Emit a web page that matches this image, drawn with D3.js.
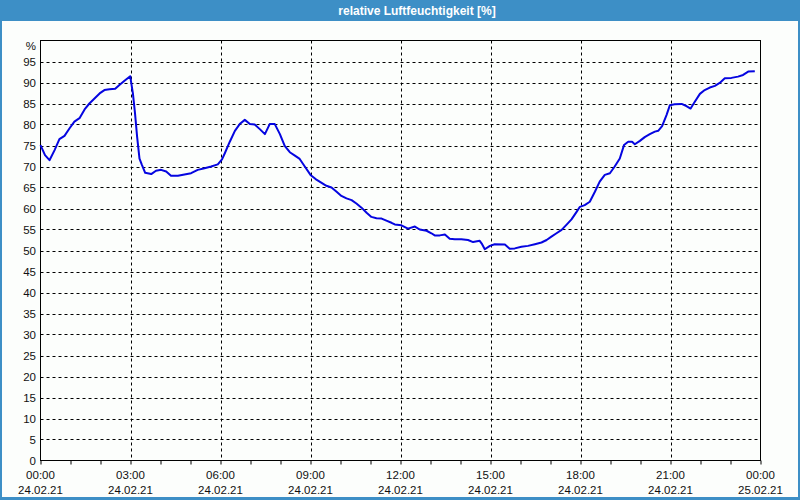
<!DOCTYPE html>
<html><head><meta charset="utf-8">
<script src="https://cdn.jsdelivr.net/npm/d3@7"></script>
<style>
html,body{margin:0;padding:0;background:#fff;}
svg{display:block;}
</style>
</head><body>
<svg id="c" width="800" height="500"></svg>
<script>
const title = "relative Luftfeuchtigkeit [%]";
const unitLabel = "%";
// hours after 24.02.21 00:00
const hours = [0,0.15,0.3,0.47,0.63,0.8,0.97,1.13,1.3,1.47,1.63,1.8,1.97,2.13,2.3,2.49,2.63,2.8,2.99,3.08,3.15,3.22,3.3,3.38,3.49,3.69,3.85,4.02,4.19,4.35,4.58,4.8,5.02,5.24,5.47,5.69,5.91,6.05,6.14,6.31,6.48,6.64,6.81,6.98,7.14,7.31,7.48,7.64,7.81,7.98,8.14,8.31,8.48,8.64,8.81,9.0,9.17,9.37,9.53,9.7,9.87,10.03,10.2,10.37,10.53,10.7,10.87,11.03,11.2,11.37,11.53,11.7,11.81,12.03,12.25,12.48,12.64,12.87,13.03,13.14,13.31,13.48,13.64,13.81,14.03,14.25,14.42,14.64,14.72,14.81,14.98,15.14,15.48,15.64,15.81,16.03,16.25,16.48,16.7,16.87,17.03,17.2,17.37,17.53,17.7,17.87,17.98,18.14,18.31,18.48,18.64,18.81,18.98,19.14,19.31,19.45,19.59,19.72,19.81,19.98,20.14,20.31,20.48,20.59,20.72,20.87,20.98,21.14,21.37,21.53,21.67,21.81,21.98,22.14,22.31,22.48,22.64,22.81,23.03,23.25,23.42,23.59,23.81];
const humidity = [75.1,72.7,71.5,73.9,76.5,77.3,79.1,80.7,81.5,83.6,85.0,86.2,87.4,88.2,88.4,88.5,89.4,90.4,91.5,87.4,82.7,77.1,71.9,70.4,68.5,68.2,69.0,69.2,68.8,67.8,67.8,68.1,68.4,69.2,69.6,70.0,70.5,71.7,73.1,75.9,78.5,80.1,81.1,80.1,80.0,78.9,77.7,80.1,80.1,77.7,74.9,73.4,72.6,71.8,70.0,68.0,67.0,66.1,65.4,65.0,64.0,63.0,62.4,62.0,61.2,60.2,59.0,58.0,57.7,57.6,57.1,56.6,56.2,56.0,55.2,55.7,55.0,54.7,54.1,53.6,53.6,53.8,52.8,52.7,52.7,52.5,52.0,52.3,51.5,50.3,51.1,51.5,51.4,50.4,50.5,50.9,51.1,51.5,51.9,52.5,53.3,54.1,54.9,56.1,57.4,59.2,60.4,60.8,61.6,64.0,66.4,68.0,68.4,70.0,71.9,75.1,75.9,75.9,75.3,76.1,77.0,77.7,78.3,78.5,79.6,82.3,84.6,84.8,84.9,84.4,83.8,85.4,87.3,88.2,88.8,89.2,89.9,91.0,91.1,91.4,91.8,92.6,92.7];
const yTicks = [0,5,10,15,20,25,30,35,40,45,50,55,60,65,70,75,80,85,90,95];
const xTickHours = [0,3,6,9,12,15,18,21,24];
const xTickTimes = ["00:00","03:00","06:00","09:00","12:00","15:00","18:00","21:00","00:00"];
const xTickDates = ["24.02.21","24.02.21","24.02.21","24.02.21","24.02.21","24.02.21","24.02.21","24.02.21","25.02.21"];

const svg = d3.select("#c");
const W = 800, H = 500;
const m = {left: 40.5, right: 760.5, top: 40.5, bottom: 460.5};
const font = "'Liberation Sans', Arial, sans-serif";

// window frame
svg.append("rect").attr("x",0).attr("y",0).attr("width",W).attr("height",H).attr("fill","#3d8fc6");
svg.append("rect").attr("x",2).attr("y",21).attr("width",W-4).attr("height",H-24).attr("fill","#fcfefc");
svg.append("text").attr("x",417).attr("y",15).attr("text-anchor","middle")
  .attr("fill","#fff").attr("font-family",font).attr("font-weight","bold").attr("font-size","12px")
  .text(title);

const x = d3.scaleLinear().domain([0,24]).range([m.left, m.right]);
const y = d3.scaleLinear().domain([0,100]).range([m.bottom, m.top]);

// horizontal grid
svg.append("g").selectAll("line").data(yTicks.filter(v=>v>0)).join("line")
  .attr("x1",m.left).attr("x2",m.right).attr("y1",d=>Math.round(y(d))+0.5).attr("y2",d=>Math.round(y(d))+0.5)
  .attr("stroke","#000").attr("stroke-width",1).attr("stroke-dasharray","3,3");
// vertical grid
svg.append("g").selectAll("line").data(xTickHours.filter(v=>v>0&&v<24)).join("line")
  .attr("y1",m.top).attr("y2",m.bottom).attr("x1",d=>Math.round(x(d))+0.5).attr("x2",d=>Math.round(x(d))+0.5)
  .attr("stroke","#000").attr("stroke-width",1).attr("stroke-dasharray","3,3");

// frame
svg.append("rect").attr("x",m.left).attr("y",m.top).attr("width",m.right-m.left).attr("height",m.bottom-m.top)
  .attr("fill","none").attr("stroke","#000").attr("stroke-width",1);

// x axis with hourly ticks
const xAxis = d3.axisBottom(x).tickValues(d3.range(0,25,1)).tickSizeInner(4).tickSizeOuter(0).tickFormat("");
const gx = svg.append("g").attr("transform",`translate(0,${m.bottom})`).call(xAxis);
gx.select(".domain").remove();
gx.selectAll("line").attr("stroke","#000");

const xl = svg.append("g").attr("font-family",font).attr("font-size","11.5px").attr("fill","#111");
xl.selectAll("text").data(xTickHours).join("text")
  .attr("x",d=>x(d)).attr("text-anchor","middle")
  .each(function(d,i){
    const t = d3.select(this);
    t.append("tspan").attr("x",x(d)).attr("y",479).text(xTickTimes[i]);
    t.append("tspan").attr("x",x(d)).attr("y",494).text(xTickDates[i]);
  });

// y labels
const yl = svg.append("g").attr("font-family",font).attr("font-size","11.5px").attr("fill","#111");
yl.selectAll("text").data(yTicks).join("text")
  .attr("x",36).attr("y",d=>y(d)+4).attr("text-anchor","end").text(d=>d);
yl.append("text").attr("x",36).attr("y",50).attr("text-anchor","end").text(unitLabel);

// line
const line = d3.line().x((d,i)=>x(hours[i])).y(d=>y(d));
svg.append("path").datum(humidity).attr("d",line).attr("fill","none")
  .attr("stroke","#0505e0").attr("stroke-width",2).attr("stroke-linejoin","round");
</script>
</body></html>
